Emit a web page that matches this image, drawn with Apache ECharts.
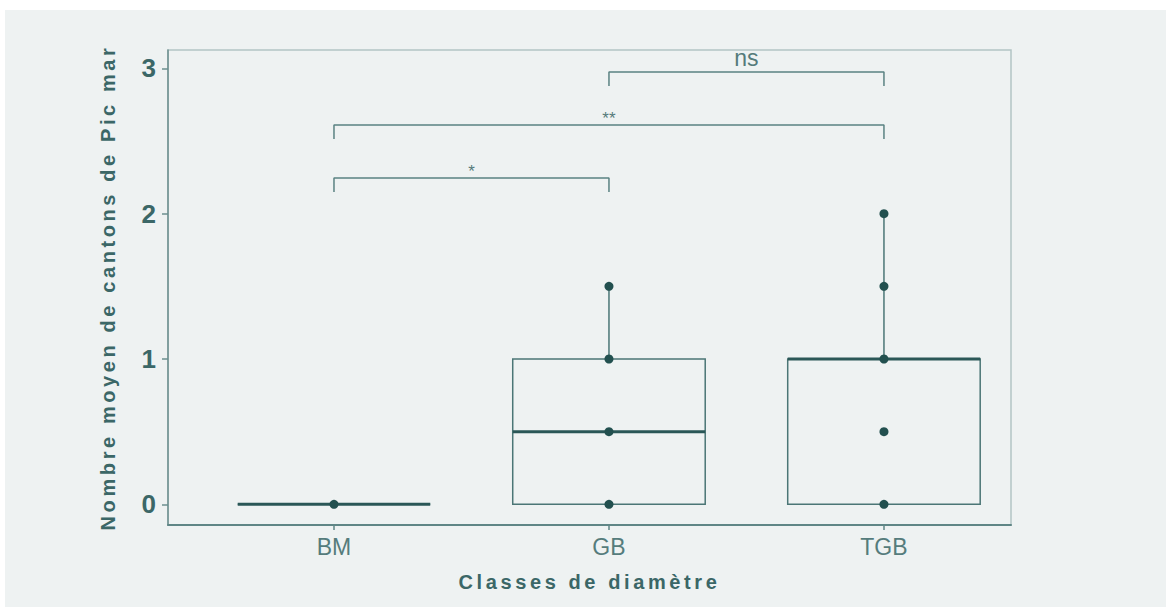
<!DOCTYPE html>
<html>
<head>
<meta charset="utf-8">
<script src="https://cdn.jsdelivr.net/npm/echarts@6/dist/echarts.min.js"></script>
<style>
  html, body { margin: 0; padding: 0; background: #ffffff; }
  #chart { position: absolute; left: 5px; top: 10px; width: 1161px; height: 597px; }
</style>
</head>
<body>
<div id="chart"></div>
<script>
// data
const categories = ['BM', 'GB', 'TGB']
const categoryPos = [1, 2, 3]
// [min, q1, median, q3, max]
const boxBM = [0, 0, 0, 0, 0]
const boxGB = [0, 0, 0.5, 1, 1.5]
const boxTGB = [0, 0, 1, 1, 2]
const pointsBM = [0]
const pointsGB = [0, 0.5, 1, 1.5]
const pointsTGB = [0, 0.5, 1, 1.5, 2]
const yTicks = [0, 1, 2, 3]
// significance brackets
const compareFrom = ['BM', 'BM', 'GB']
const compareTo = ['GB', 'TGB', 'TGB']
const bracketY = [2.245, 2.61, 2.975]
const signif = ['*', '**', 'ns']

const xTitle = 'Classes de diamètre'
const yTitle = 'Nombre moyen de cantons de Pic mar'

const boxWidth = 0.7
const bracketDrop = 0.096
const tealDark = '#22504f'
const tealLine = '#4b7676'
const textColor = '#3b6767'

const boxes = [boxBM, boxGB, boxTGB].map((b, i) => [categoryPos[i]].concat(b))
const points = []
;[pointsBM, pointsGB, pointsTGB].forEach((arr, i) => {
  arr.forEach(v => points.push([categoryPos[i], v]))
})
const posOf = name => categoryPos[categories.indexOf(name)]

const bracketSeries = compareFrom.map((from, i) => {
  const x1 = posOf(from), x2 = posOf(compareTo[i]), y = bracketY[i]
  return {
    type: 'line',
    data: [[x1, y - bracketDrop], [x1, y], [x2, y], [x2, y - bracketDrop]],
    symbol: 'none',
    lineStyle: { color: '#5a8282', width: 1.5 },
    silent: true,
    z: 3
  }
})
const signifData = compareFrom.map((from, i) => [(posOf(from) + posOf(compareTo[i])) / 2, bracketY[i], i])

const chart = echarts.init(document.getElementById('chart'), null, { renderer: 'svg' })

chart.setOption({
  backgroundColor: '#eef2f2',
  animation: false,
  grid: {
    left: 163, top: 40, right: 155, bottom: 82,
    show: true,
    borderColor: '#b3c5c5',
    borderWidth: 1.5,
    backgroundColor: 'transparent'
  },
  xAxis: {
    type: 'value',
    min: 0.3964,
    max: 3.462,
    name: xTitle,
    nameLocation: 'middle',
    nameGap: 47,
    nameTextStyle: { fontFamily: 'Liberation Sans, Arial', fontWeight: 'bold', fontSize: 20, color: textColor },
    axisLine: { show: true, onZero: false, lineStyle: { color: '#5f8686', width: 2 } },
    axisTick: { show: true, length: 5, customValues: categoryPos, lineStyle: { color: '#5f8686', width: 1.5 } },
    axisLabel: {
      customValues: categoryPos,
      margin: 10,
      fontFamily: 'Liberation Sans, Arial',
      fontSize: 23,
      color: '#557c7c',
      formatter: v => categories[categoryPos.indexOf(v)] || ''
    },
    splitLine: { show: false }
  },
  yAxis: {
    type: 'value',
    min: -0.142,
    max: 3.126,
    name: yTitle,
    nameLocation: 'middle',
    nameGap: 50,
    nameTextStyle: { fontFamily: 'Liberation Sans, Arial', fontWeight: 'bold', fontSize: 20, color: textColor },
    axisLine: { show: true, onZero: false, lineStyle: { color: '#6b8f8f', width: 1.5 } },
    axisTick: { show: true, length: 6, customValues: yTicks, lineStyle: { color: '#6b8f8f', width: 1.5 } },
    axisLabel: {
      customValues: yTicks,
      margin: 12,
      fontFamily: 'Liberation Sans, Arial',
      fontWeight: 'bold',
      fontSize: 26,
      color: textColor
    },
    splitLine: { show: false }
  },
  series: [
    {
      type: 'custom',
      data: boxes,
      z: 2,
      silent: true,
      renderItem: function (params, api) {
        const x = api.value(0)
        const half = api.size([boxWidth, 0])[0] / 2
        const c = v => api.coord([x, v])
        const pMin = c(api.value(1))
        const pQ1 = c(api.value(2))
        const pMed = c(api.value(3))
        const pQ3 = c(api.value(4))
        const pMax = c(api.value(5))
        const edge = { stroke: tealLine, lineWidth: 1.5, fill: null }
        return {
          type: 'group',
          children: [
            { type: 'line', shape: { x1: pMax[0], y1: pMax[1], x2: pQ3[0], y2: pQ3[1] }, style: edge },
            { type: 'line', shape: { x1: pMin[0], y1: pMin[1], x2: pQ1[0], y2: pQ1[1] }, style: edge },
            { type: 'rect', shape: { x: pQ1[0] - half, y: pQ3[1], width: half * 2, height: pQ1[1] - pQ3[1] }, style: edge },
            { type: 'line', shape: { x1: pMed[0] - half, y1: pMed[1], x2: pMed[0] + half, y2: pMed[1] }, style: { stroke: '#2a5757', lineWidth: 3 } }
          ]
        }
      }
    },
    {
      type: 'scatter',
      data: points,
      symbolSize: 9,
      itemStyle: { color: tealDark, opacity: 1 },
      z: 4
    },
    ...bracketSeries,
    {
      type: 'custom',
      data: signifData,
      z: 5,
      silent: true,
      renderItem: function (params, api) {
        const p = api.coord([api.value(0), api.value(1)])
        const txt = signif[api.value(2)]
        const isNs = txt === 'ns'
        return {
          type: 'text',
          x: p[0],
          y: p[1] - (isNs ? 2 : -2),
          style: {
            text: txt,
            align: 'center',
            verticalAlign: 'bottom',
            fontFamily: 'Liberation Sans, Arial',
            fontSize: isNs ? 23 : 17,
            fill: '#557b7b'
          }
        }
      }
    }
  ]
})

// wide letter spacing on the axis titles
function spaceTitles() {
  document.querySelectorAll('#chart text').forEach(t => {
    if (t.textContent === xTitle || t.textContent === yTitle) {
      t.setAttribute('letter-spacing', '3.6')
    }
  })
}
chart.on('finished', spaceTitles)
spaceTitles()
</script>
</body>
</html>
